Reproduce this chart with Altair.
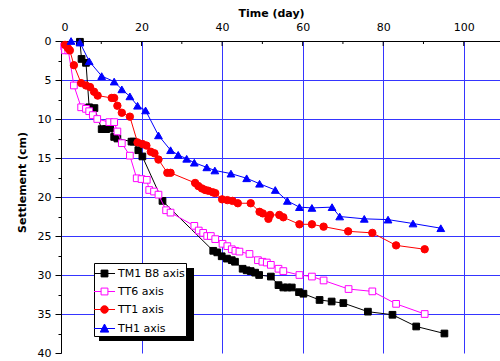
import altair as alt
import pandas as pd

series_names = ["TM1 B8 axis", "TT6 axis", "TT1 axis", "TH1 axis"]

tm1_day = [4.7, 5.1, 6.2, 7.0, 8.3, 10.1, 11.2, 12.2, 13.2, 14.0, 17.5, 18.0, 19.2, 20.2, 25.2,
           37.8, 38.8, 39.9, 41.2, 42.4, 43.2, 45.1, 46.1, 47.1, 48.2, 49.2, 52.1, 54.0, 55.2,
           56.2, 57.3, 59.1, 60.2, 64.2, 67.2, 70.1, 76.2, 82.3, 88.2, 95.2]
tm1_cm = [0.1, 2.3, 2.8, 8.5, 8.6, 11.3, 11.3, 11.2, 12.3, 12.5, 12.9, 12.9, 14.0, 14.8, 20.5,
          26.9, 27.1, 27.6, 27.9, 28.1, 28.3, 29.2, 29.4, 29.5, 29.7, 30.0, 30.2, 31.3, 31.6,
          31.6, 31.6, 32.2, 32.4, 33.2, 33.4, 33.6, 34.7, 35.1, 36.6, 37.5]

tt6_day = [0.8, 1.0, 1.8, 3.2, 5.0, 6.2, 7.0, 7.9, 9.0, 12.0, 13.2, 14.0, 15.1, 17.1, 18.8, 20.0,
           21.3, 21.9, 23.1, 24.2, 26.1, 27.2, 33.1, 34.2, 35.3, 36.3, 37.2, 38.3, 40.1, 41.3,
           42.4, 43.3, 44.3, 46.8, 48.9, 50.0, 51.1, 52.1, 54.0, 55.2, 59.2, 62.3, 65.2, 71.4,
           77.3, 83.2, 90.3]
tt6_cm = [0.7, 1.2, 1.2, 5.7, 8.5, 8.7, 9.0, 9.5, 10.0, 10.4, 10.4, 11.6, 13.1, 14.7, 17.6, 17.7,
          17.8, 19.1, 19.3, 19.7, 21.7, 22.0, 23.7, 24.3, 24.6, 25.0, 25.0, 25.4, 26.0, 26.3,
          26.7, 26.9, 27.0, 27.3, 28.1, 28.3, 28.4, 28.7, 29.2, 29.5, 30.0, 30.2, 30.7, 31.8,
          32.1, 33.7, 35.0]

tt1_day = [1.0, 1.7, 2.2, 3.2, 5.0, 6.2, 7.2, 8.2, 9.1, 12.6, 13.2, 14.0, 15.1, 17.1, 19.0, 20.2,
           21.2, 22.3, 23.2, 24.2, 26.4, 27.2, 33.3, 34.1, 35.0, 35.8, 36.6, 37.7, 38.3, 40.0,
           41.3, 42.6, 43.9, 47.1, 49.3, 50.1, 51.5, 51.9, 54.2, 55.2, 59.2, 62.3, 65.2, 71.3,
           77.3, 83.2, 90.3]
tt1_cm = [0.5, 0.9, 1.2, 3.1, 5.4, 5.7, 5.9, 6.5, 7.0, 7.3, 7.3, 8.3, 9.2, 9.7, 13.0, 13.2,
          13.4, 14.2, 14.4, 15.2, 16.9, 16.9, 18.2, 18.6, 18.9, 19.1, 19.2, 19.4, 19.5, 20.3,
          20.4, 20.5, 20.8, 20.8, 21.9, 22.1, 22.8, 22.3, 22.3, 22.6, 23.5, 23.5, 23.8, 24.4,
          24.6, 26.2, 26.7]

th1_day = [2.5, 4.7, 7.0, 10.1, 13.2, 15.1, 17.1, 19.0, 21.0, 24.2, 27.2, 29.1, 31.2, 33.1,
           36.2, 38.2, 42.2, 46.1, 49.3, 53.2, 56.2, 59.2, 62.3, 67.3, 69.2, 75.3, 81.2, 87.4, 94.3]
th1_cm = [0.0, 0.2, 2.6, 4.5, 5.2, 6.2, 7.1, 8.3, 8.9, 12.1, 14.0, 14.6, 15.1, 15.6,
          16.2, 16.6, 17.0, 17.6, 18.3, 19.1, 20.5, 21.3, 21.4, 21.3, 22.5, 22.8, 22.9, 23.4, 24.0]

x_major = [20, 40, 60, 80, 100]
x_minor = [10, 30, 50, 70, 90]
y_ticks = [v * 2.5 for v in range(17)]

line_colors = ["#000000", "#ff00ff", "#ff0000", "#0000ff"]
fill_colors = ["#000000", "#ffffff", "#ff0000", "#0000ff"]
shapes = ["square", "square", "circle", "triangle-up"]
sizes = [45, 45, 55, 60]
legend_paths = [
    "M-1.17,0H1.17M-0.38,-0.38H0.38V0.38H-0.38Z",
    "M-1.17,0H-0.38M0.38,0H1.17M-0.38,-0.38H0.38V0.38H-0.38Z",
    "M-1.17,0H1.17M0.42,0A0.42,0.42,0,1,1,-0.42,0A0.42,0.42,0,1,1,0.42,0Z",
    "M-1.17,0H1.17M0,-0.5L0.47,0.4H-0.47Z",
]

FONT = "DejaVu Sans"

all_days = [tm1_day, tt6_day, tt1_day, th1_day]
all_cms = [tm1_cm, tt6_cm, tt1_cm, th1_cm]

x_scale = alt.Scale(domain=[0, 109], nice=False, zero=False)
y_scale = alt.Scale(domain=[0, 40], nice=False, reverse=True)

x_axis = alt.Axis(
    orient="top", values=x_major + [0], grid=True, ticks=False, labelPadding=9,
    gridColor="#3535ff", gridWidth=1, domainColor="#000000", labelColor="#000000",
    labelFont=FONT, labelFontSize=11, title="Time (day)", titleFont=FONT,
    titleFontSize=11, titleFontWeight="bold", titleX=210, titleY=-25,
    titleAlign="center", titleBaseline="alphabetic", titleColor="#000000",
)
y_axis = alt.Axis(
    orient="left", values=y_ticks,
    labelExpr="datum.value % 5 == 0 ? datum.label : ''",
    grid=True,
    gridOpacity={"condition": {"test": "datum.value % 5 == 0 && datum.value > 0 && datum.value < 40", "value": 1}, "value": 0},
    tickSize={"condition": {"test": "datum.value % 5 == 0", "value": 6}, "value": 3},
    tickColor="#000000", labelPadding=4,
    gridColor="#3535ff", gridWidth=1, domainColor="#000000", labelColor="#000000",
    labelFont=FONT, labelFontSize=11, title="Settlement (cm)", titleFont=FONT,
    titleFontSize=11, titleFontWeight="bold", titleX=-36, titleY=141, titleAngle=270,
    titleAlign="center", titleBaseline="alphabetic", titleColor="#000000",
)

X = lambda f: alt.X(f, type="quantitative", scale=x_scale, axis=x_axis)
Y = lambda f: alt.Y(f, type="quantitative", scale=y_scale, axis=y_axis)

layers = []
for i, name in enumerate(series_names):
    df = pd.DataFrame({"day": all_days[i], "cm": all_cms[i]})
    line = alt.Chart(df).mark_line(color=line_colors[i], strokeWidth=1).encode(
        x=X("day"), y=Y("cm"), order="day:Q")
    pts = alt.Chart(df).mark_point(shape=shapes[i], size=sizes[i], filled=True,
                                   fill=fill_colors[i], stroke=line_colors[i],
                                   strokeWidth=1, opacity=1).encode(
        x=X("day"), y=Y("cm"))
    layers += [line, pts]

tick_minor = alt.Chart(pd.DataFrame({"t": x_minor, "z": [0] * 5})).mark_rule(
    color="#000000", strokeWidth=1).encode(
    x=X("t"), y=Y("z"), y2=alt.value(3))
tick_major = alt.Chart(pd.DataFrame({"t": x_major, "z": [0] * 5})).mark_rule(
    color="#000000", strokeWidth=1).encode(
    x=X("t"), y=Y("z"), y2=alt.value(5))

# drop shadow behind the legend box
shadow = alt.Chart(pd.DataFrame({"a": [0]})).mark_rect(color="#000000").encode(
    x=alt.value(38), x2=alt.value(133), y=alt.value(227), y2=alt.value(300))

leg = dict(title=None, orient="none", legendX=33, legendY=222, zindex=10)
legend_layer = alt.Chart(pd.DataFrame({"series": series_names})).mark_point(
    opacity=0, size=324, filled=True).encode(
    x=alt.value(0), y=alt.value(0),
    shape=alt.Shape("series:N", scale=alt.Scale(domain=series_names, range=legend_paths),
                    legend=alt.Legend(**leg)),
    fill=alt.Fill("series:N", scale=alt.Scale(domain=series_names, range=fill_colors),
                  legend=alt.Legend(**leg)),
    stroke=alt.Stroke("series:N", scale=alt.Scale(domain=series_names, range=line_colors),
                      legend=alt.Legend(**leg)),
)

chart = alt.layer(tick_minor, tick_major, *layers, shadow, legend_layer).properties(
    width=439, height=312,
    autosize=alt.AutoSizeParams(type="none"),
    padding={"left": 61, "top": 41, "right": 0, "bottom": 8},
    background="#ffffff",
).configure_view(stroke=None).configure_legend(
    fillColor="#ffffff", strokeColor="#000000", strokeWidth=1, padding=1,
    symbolSize=324, symbolStrokeWidth=1, symbolOpacity=1, labelFont=FONT,
    labelFontSize=11, labelColor="#000000", labelOffset=4, rowPadding=3,
    cornerRadius=0, zindex=10,
)

chart.save("out.html", embed_options={"renderer": "svg", "actions": False})
